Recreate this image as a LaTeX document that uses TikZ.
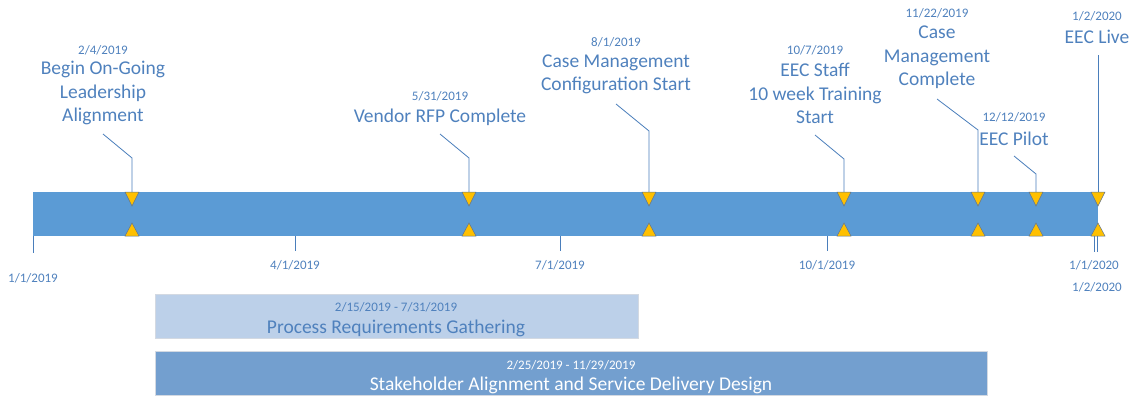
\documentclass[tikz,border=0pt]{standalone}
\usepackage{fontspec}
\setmainfont{Carlito}
\definecolor{barblue}{HTML}{5B9BD5}
\definecolor{txtblue}{HTML}{4F81BD}
\definecolor{lineblue}{HTML}{4A7EBB}
\definecolor{msyellow}{HTML}{FFC000}
\definecolor{triedge}{HTML}{5F7490}
\definecolor{lightbar}{HTML}{BCD0E9}
\definecolor{darkbar}{HTML}{739FCF}
\definecolor{baredge}{HTML}{D3D9E2}
\begin{document}
\begin{tikzpicture}[x=1pt,y=-1pt,
  datelbl/.style={font=\fontsize{13}{15}\selectfont, text=txtblue, inner sep=0pt},
  titlelbl/.style={font=\fontsize{19.5}{23.5}\selectfont, text=txtblue, align=center, inner sep=0pt},
  leader/.style={draw=lineblue, line width=0.8pt},
  tickline/.style={draw=lineblue, line width=0.8pt},
  tri/.style={fill=msyellow, draw=triedge, line width=0.5pt, line join=miter},
  phase/.style={draw=baredge, line width=0.8pt, minimum height=44pt, inner sep=0pt, anchor=north west},
  downtri/.pic={\path[tri] (-7,0) -- (7,0) -- (0,14) -- cycle;},
  uptri/.pic={\path[tri] (-7,0) -- (7,0) -- (0,-13) -- cycle;}
]
\useasboundingbox (0,0) rectangle (1131,398);

% main timeline band
\fill[barblue] (33,192) rectangle (1098,236);

% axis ticks and their dates
\foreach \x/\name in {33/t0, 295/t1, 560/t2, 827/t3, 1094/t4, 1097/t5}
  \coordinate (\name) at (\x,236);
\draw[tickline] (t0) -- ++(0,17);
\draw[tickline] (t1) -- ++(0,15);
\draw[tickline] (t2) -- ++(0,15);
\draw[tickline] (t3) -- ++(0,15);
\draw[tickline] (t4) -- ++(0,16);
\draw[tickline] (t5) -- ++(0,16);
\node[datelbl] (d0) at (33,278) {1/1/2019};
\node[datelbl] (d1) at (295,265) {4/1/2019};
\node[datelbl] (d2) at (560,265) {7/1/2019};
\node[datelbl] (d3) at (827,265) {10/1/2019};
\node[datelbl] (d4) at (1094,265) {1/1/2020};
\node[datelbl] (d5) at (1097,287) {1/2/2020};

% milestones: date, caption, leader line
\node[datelbl] (m1d) at (103,50) {2/4/2019};
\node[titlelbl] (m1t) at (103,93) {Begin On-Going\\Leadership\\Alignment};
\coordinate (m1) at (132,192);
\coordinate (m1k) at (132,158);
\coordinate (m1e) at (103,134);
\draw[leader] (m1) -- (m1k) -- (m1e);

\node[datelbl] (m2d) at (440,96) {5/31/2019};
\node[titlelbl] (m2t) at (440,117) {Vendor RFP Complete};
\coordinate (m2) at (469,192);
\coordinate (m2k) at (469,158);
\coordinate (m2e) at (440,134);
\draw[leader] (m2) -- (m2k) -- (m2e);

\node[datelbl] (m3d) at (616,42) {8/1/2019};
\node[titlelbl] (m3t) at (616,74.5) {Case Management\\Configuration Start};
\coordinate (m3) at (649,192);
\coordinate (m3k) at (649,131);
\coordinate (m3e) at (616,104);
\draw[leader] (m3) -- (m3k) -- (m3e);

\node[datelbl] (m4d) at (815,50) {10/7/2019};
\node[titlelbl] (m4t) at (815,93.5) {EEC Staff\\10 week Training\\Start};
\coordinate (m4) at (844,192);
\coordinate (m4k) at (844,159);
\coordinate (m4e) at (815,135);
\draw[leader] (m4) -- (m4k) -- (m4e);

\node[datelbl] (m5d) at (937,13) {11/22/2019};
\node[titlelbl] (m5t) at (937,57.5) {Case\\Management\\Complete};
\coordinate (m5) at (978,192);
\coordinate (m5k) at (978,130);
\coordinate (m5e) at (937,99);
\draw[leader] (m5) -- (m5k) -- (m5e);

\node[datelbl] (m6d) at (1014,117) {12/12/2019};
\node[titlelbl] (m6t) at (1014,139) {EEC Pilot};
\coordinate (m6) at (1036,192);
\coordinate (m6k) at (1036,174);
\coordinate (m6e) at (1014,156);
\draw[leader] (m6) -- (m6k) -- (m6e);

\node[datelbl] (m7d) at (1097,16) {1/2/2020};
\node[titlelbl] (m7t) at (1097,37) {EEC Live};
\coordinate (m7) at (1098,192);
\coordinate (m7k) at (1098,55);
\draw[leader] (m7) -- (m7k);

% milestone markers on both edges of the band
\foreach \x in {132,469,649,844,978,1036,1098} {
  \pic at (\x,192) {downtri};
  \pic at (\x,236) {uptri};
}

% phases
\node[phase, fill=lightbar, minimum width=483pt] (p1) at (155,294) {};
\node[datelbl] (p1d) at (396,307) {2/15/2019 - 7/31/2019};
\node[titlelbl] (p1t) at (396,328) {Process Requirements Gathering};

\node[phase, fill=darkbar, minimum width=832pt] (p2) at (155,351) {};
\node[datelbl, text=white] (p2d) at (571,365) {2/25/2019 - 11/29/2019};
\node[titlelbl, text=white] (p2t) at (571,385) {Stakeholder Alignment and Service Delivery Design};
\end{tikzpicture}
\end{document}
